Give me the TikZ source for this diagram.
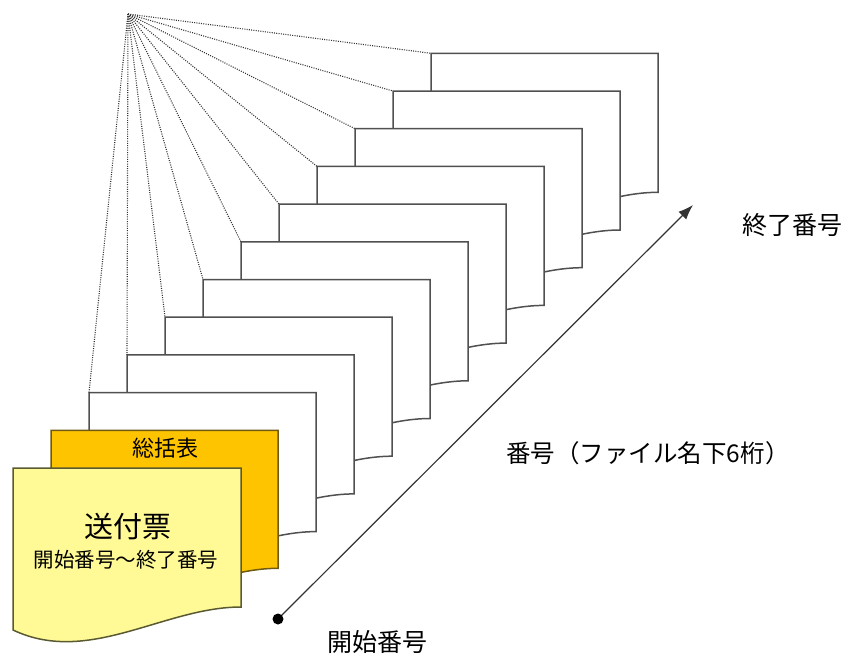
\documentclass[tikz,border=0pt]{standalone}
\usepackage{fontspec}
\setmainfont{Noto Sans CJK JP}
\usetikzlibrary{arrows.meta}
\definecolor{pageline}{HTML}{505050}
\definecolor{orangefill}{HTML}{FFC400}
\definecolor{orangeline}{HTML}{6E5A14}
\definecolor{yellowfill}{HTML}{FFFA96}
\definecolor{yellowline}{HTML}{5A5A32}
\tikzset{
  pagebox/.style={draw=pageline, line width=1.5pt, fill=white, line join=miter},
  summarybox/.style={draw=orangeline, line width=1.5pt, fill=orangefill},
  slipbox/.style={draw=yellowline, line width=1.5pt, fill=yellowfill},
  fanline/.style={draw=black!80, line width=1.1pt, dash pattern=on 1pt off 1.3pt},
  axisline/.style={draw=black!80, line width=1.2pt},
  lbl/.style={inner sep=0pt, text=black},
}
\begin{document}
\begin{tikzpicture}[x=1pt,y=-1pt]
\useasboundingbox (0,0) rectangle (852,657);
\coordinate (apex) at (128,14);
% white pages, back to front
\foreach \i in {11,10,...,2}{
  \pgfmathsetmacro\px{13+38*\i}
  \pgfmathsetmacro\py{468-37.7*\i}
  \coordinate (c\i) at (\px,\py);
  \draw[pagebox] (c\i) -- ++(227,0) -- ++(0,139)
     .. controls ++(-75,0) and ++(75,36) .. ++(-227,23) -- cycle;
}
% orange summary sheet
\coordinate (c1) at (51,430.3);
\draw[summarybox] (c1) -- ++(227,0) -- ++(0,138)
     .. controls ++(-75,0) and ++(75,36) .. ++(-227,23) -- cycle;
% yellow slip
\coordinate (c0) at (13,468);
\draw[slipbox] (c0) -- ++(228,0) -- ++(0,139)
     .. controls ++(-77,0) and ++(76,36) .. ++(-228,23) -- cycle;
% fan lines
\foreach \i in {2,...,11}{
  \draw[fanline] (apex) -- (c\i);
}
% number axis
\coordinate (startpt) at (278,619);
\coordinate (endpt) at (693,205);
\draw[axisline, -{Latex[length=15pt,width=11pt]}] (startpt) -- (endpt);
\fill[black] (startpt) circle[radius=5.5];
% labels
\node[lbl, font=\fontsize{22}{22}\selectfont] (sumlbl) at (165,448) {総括表};
\node[lbl, font=\fontsize{29}{29}\selectfont] (sliplbl) at (128,526) {送付票};
\node[lbl, font=\fontsize{20.5}{20.5}\selectfont] (rangelbl) at (126,560) {開始番号～終了番号};
\node[lbl, font=\fontsize{25}{25}\selectfont] (endlbl) at (792,225) {終了番号};
\node[lbl, font=\fontsize{24.5}{24.5}\selectfont] (numlbl) at (648,453) {番号（ファイル名下6桁）};
\node[lbl, font=\fontsize{25}{25}\selectfont] (startlbl) at (377,642) {開始番号};
\end{tikzpicture}
\end{document}
